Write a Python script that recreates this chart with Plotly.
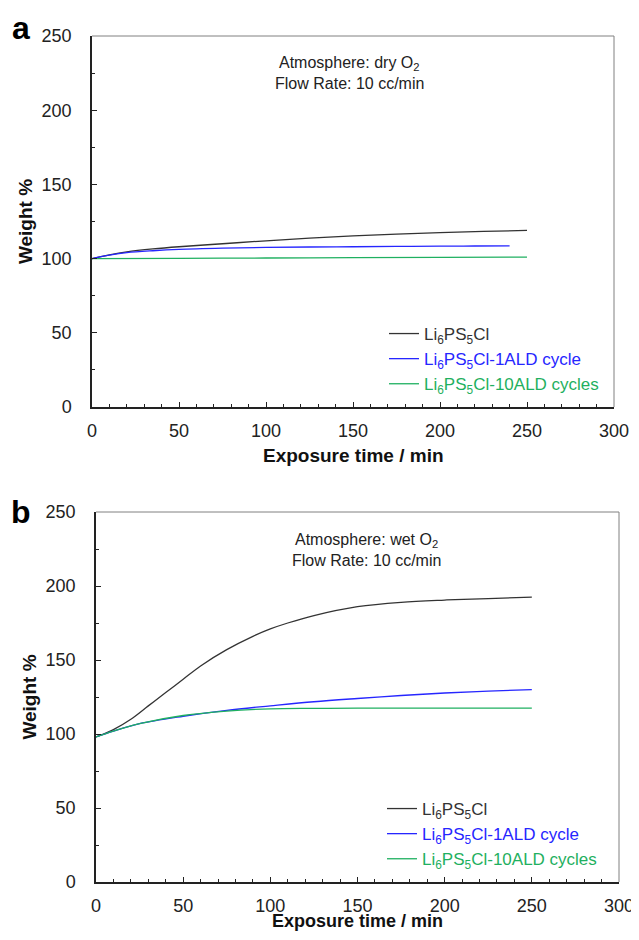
import plotly.graph_objects as go

# ---- data ----
t_a_base = [0, 10, 20, 35, 50, 75, 100, 125, 150, 175, 200, 225, 250]
w_a_base = [100, 102.5, 104.5, 106.5, 108, 110, 112, 113.8, 115.3, 116.5, 117.5, 118.3, 119]
t_a_1ald = [0, 10, 20, 35, 50, 75, 100, 125, 150, 175, 200, 220, 240]
w_a_1ald = [100, 102.3, 104, 105.3, 106.2, 107, 107.5, 107.8, 108, 108.2, 108.4, 108.5, 108.6]
t_a_10ald = [0, 50, 100, 150, 200, 250]
w_a_10ald = [100, 100.2, 100.4, 100.6, 100.8, 101]

t_b_base = [0, 10, 20, 30, 40, 50, 60, 75, 90, 100, 110, 125, 150, 175, 200, 225, 250]
w_b_base = [98, 103, 110, 119, 128, 137, 146, 157, 166, 171, 175, 180, 186, 189, 190.5, 191.5, 192.5]
t_b_1ald = [0, 10, 25, 50, 75, 100, 125, 150, 175, 200, 225, 250]
w_b_1ald = [98, 102, 107, 112, 116, 119, 121.8, 124, 126, 127.7, 129, 130]
t_b_10ald = [0, 10, 25, 50, 75, 100, 125, 150, 200, 250]
w_b_10ald = [98, 102, 107, 112.5, 115.5, 117, 117.3, 117.5, 117.5, 117.5]

names = ["Li<sub>6</sub>PS<sub>5</sub>Cl",
         "Li<sub>6</sub>PS<sub>5</sub>Cl-1ALD cycle",
         "Li<sub>6</sub>PS<sub>5</sub>Cl-10ALD cycles"]
colors = ["#333333", "#2626ff", "#1fb060"]

x_ticks = [0, 50, 100, 150, 200, 250, 300]
y_ticks = [0, 50, 100, 150, 200, 250]

FONT = "Liberation Sans, Arial, sans-serif"

# page has an 8px body margin
W, H, OFF = 631, 924, 8
def px(x):
    return (x - OFF) / W
def py(y):
    return 1 - (y - OFF) / H

fig = go.Figure()

series_a = [(t_a_base, w_a_base), (t_a_1ald, w_a_1ald), (t_a_10ald, w_a_10ald)]
series_b = [(t_b_base, w_b_base), (t_b_1ald, w_b_1ald), (t_b_10ald, w_b_10ald)]

for i, (t, w) in enumerate(series_a):
    fig.add_trace(go.Scatter(x=t, y=w, mode="lines", line=dict(color=colors[i], width=1.3, shape="spline"),
                             name=f"<span style='color:{colors[i]}'>{names[i]}</span>",
                             xaxis="x", yaxis="y", legend="legend"))
for i, (t, w) in enumerate(series_b):
    fig.add_trace(go.Scatter(x=t, y=w, mode="lines", line=dict(color=colors[i], width=1.3, shape="spline"),
                             name=f"<span style='color:{colors[i]}'>{names[i]}</span>",
                             xaxis="x2", yaxis="y2", legend="legend2"))

def xax(domain, anchor):
    return dict(domain=domain, anchor=anchor, range=[0, 300], tickvals=x_ticks, automargin=False,
                ticks="inside", ticklen=5, tickwidth=1, tickcolor="#222", ticklabelstandoff=7,
                ticklabeloverflow="allow",
                minor=dict(dtick=10, ticks="inside", ticklen=3, tickcolor="#222"),
                showline=True, linecolor="#222", linewidth=1.5, showgrid=False, zeroline=False,
                tickfont=dict(family=FONT, size=18, color="#222"))

def yax(domain, anchor):
    return dict(domain=domain, anchor=anchor, range=[0, 250], tickvals=y_ticks, automargin=False,
                ticks="inside", ticklen=5, tickwidth=1, tickcolor="#222", ticklabelstandoff=15,
                ticklabeloverflow="allow",
                minor=dict(dtick=25, ticks="inside", ticklen=3, tickcolor="#222"),
                showline=True, linecolor="#222", linewidth=1.5, showgrid=False, zeroline=False,
                tickfont=dict(family=FONT, size=18, color="#222"),
                title=dict(text="<b>Weight %</b>", font=dict(family=FONT, size=19, color="#111"), standoff=4))

fig.update_layout(
    width=W, height=H, margin=dict(l=0, r=0, t=0, b=0),
    paper_bgcolor="white", plot_bgcolor="white",
    font=dict(family=FONT),
    xaxis=xax([px(92), px(614)], "y"),
    yaxis=yax([py(407), py(36)], "x"),
    xaxis2=xax([px(96), px(619)], "y2"),
    yaxis2=yax([py(882), py(512)], "x2"),
    legend=dict(x=px(384), y=py(316), xanchor="left", yanchor="top", bgcolor="rgba(0,0,0,0)",
                font=dict(family=FONT, size=17), itemwidth=30, tracegroupgap=0),
    legend2=dict(x=px(382), y=py(791), xanchor="left", yanchor="top", bgcolor="rgba(0,0,0,0)",
                 font=dict(family=FONT, size=17), itemwidth=30, tracegroupgap=0),
    showlegend=True,
)

# top/right frame lines (gray)
for xr, yr in [("x domain", "y domain"), ("x2 domain", "y2 domain")]:
    fig.add_shape(type="line", xref=xr, yref=yr, x0=0, x1=1, y0=1, y1=1, line=dict(color="#808080", width=1))
    fig.add_shape(type="line", xref=xr, yref=yr, x0=1, x1=1, y0=0, y1=1, line=dict(color="#808080", width=1))

# x-axis titles
fig.add_annotation(x=0.5, y=py(455), xref="x domain", yref="paper", xanchor="center", yanchor="middle",
                   text="<b>Exposure time / min</b>", showarrow=False,
                   font=dict(family=FONT, size=19, color="#111"))
fig.add_annotation(x=0.5, y=0, xref="x2 domain", yref="paper", xanchor="center", yanchor="bottom",
                   text="<b>Exposure time / min</b>", showarrow=False, borderpad=0,
                   font=dict(family=FONT, size=18, color="#111"))

# in-panel text (two lines each)
for xr, yr, gas, xc in [("x", "y domain", "dry", 148), ("x2", "y2 domain", "wet", 155)]:
    fig.add_annotation(x=xc, y=1, xref=xr, yref=yr, yshift=-28, xanchor="center", yanchor="middle",
                       text=f"Atmosphere: {gas} O<sub>2</sub>", showarrow=False,
                       font=dict(family=FONT, size=16, color="#222"))
    fig.add_annotation(x=xc, y=1, xref=xr, yref=yr, yshift=-48, xanchor="center", yanchor="middle",
                       text="Flow Rate: 10 cc/min", showarrow=False,
                       font=dict(family=FONT, size=16, color="#222"))

# panel labels
fig.add_annotation(x=px(21), y=py(48), xref="paper", yref="paper", xanchor="center", yanchor="bottom",
                   text="<b>a</b>", showarrow=False, font=dict(family=FONT, size=32, color="#000"))
fig.add_annotation(x=px(21), y=py(532), xref="paper", yref="paper", xanchor="center", yanchor="bottom",
                   text="<b>b</b>", showarrow=False, font=dict(family=FONT, size=32, color="#000"))

fig.write_html("out.html")
